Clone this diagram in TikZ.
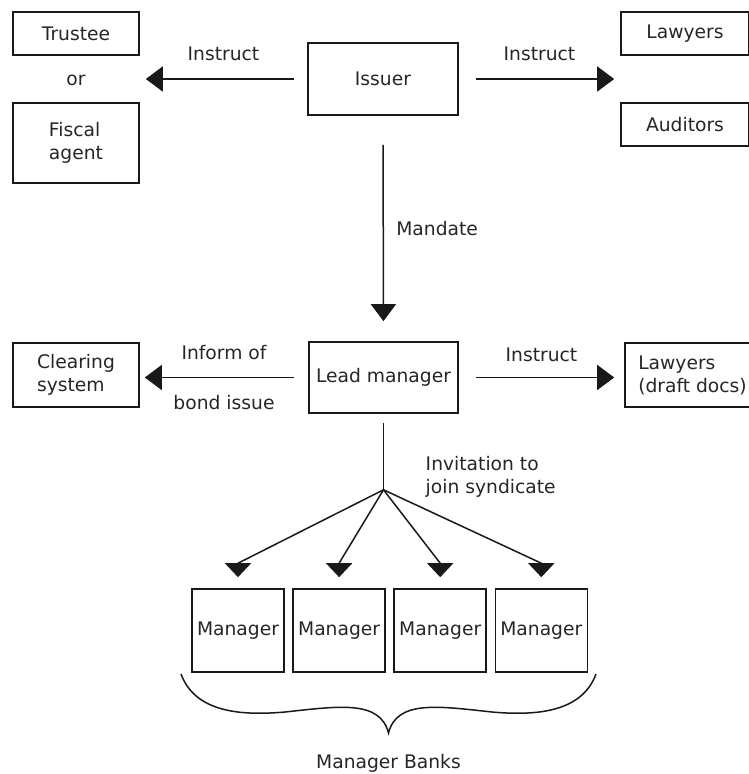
\documentclass[tikz,border=0pt]{standalone}
\usepackage{fontspec}
\setmainfont{DejaVu Sans}
\usetikzlibrary{arrows.meta, positioning}

\begin{document}
\begin{tikzpicture}[
    x=1pt, y=-1pt,
    every node/.style={font=\fontsize{18.7}{23}\selectfont, text=black!85},
    box/.style={draw=black!90, rectangle, line width=1.6pt, minimum width=126pt, minimum height=43pt, inner sep=0pt},
    arrow/.style={-{Triangle[length=17pt,width=25pt]}, line width=1.5pt, black!90},
    fanarrow/.style={-{Triangle[length=14pt,width=26pt]}, line width=1.5pt, black!90}
]
\useasboundingbox (0,0) rectangle (749,774);

% top row
\node[box] (trustee) at (76,33.5) {Trustee};
\node (or) at (76,80) {or};
\node[box, minimum height=80pt, align=left] (fiscal) at (76,143) {Fiscal\\agent};
\node[box, minimum width=150pt, minimum height=72pt] (issuer) at (383,79) {Issuer};
\node[box, minimum width=128pt] (lawyers) at (685,33.5) {Lawyers};
\node[box, minimum width=128pt] (auditors) at (685,124.5) {Auditors};

% middle row
\node[box, minimum width=149pt, minimum height=71pt] (lead) at (383.5,377.5) {Lead manager};
\node[box, minimum height=64pt, align=left] (clearing) at (76,375) {Clearing\\system};
\node[box, minimum width=135pt, minimum height=64pt, align=left] (draft) at (692.5,375) {Lawyers\\(draft docs)};

\draw[arrow, shorten <=13pt, shorten >=6pt] (issuer.west) -- node[above=14pt] {Instruct} (issuer.west -| trustee.east);
\draw[arrow, shorten <=17pt, shorten >=6pt] (issuer.east) -- node[above=14pt] {Instruct} (issuer.east -| lawyers.west);
\draw[arrow, shorten <=29pt, shorten >=20pt] (issuer.south) -- node[right=9pt] {Mandate} (lead.north);
\draw[arrow, shorten <=14pt, shorten >=5pt] (lead.west) -- node[above=14pt] {Inform of} node[below=14pt] {bond issue} (lead.west -| clearing.east);
\draw[arrow, shorten <=17pt, shorten >=10pt] (lead.east) -- node[above=12pt] {Instruct} (lead.east -| draft.west);

% syndicate
\coordinate[below=76pt of lead.south] (split);
\draw[line width=1.5pt, black!90, shorten <=9pt] (lead.south) -- (split);
\node[anchor=west, align=left] (invite) at ([xshift=38.7pt, yshift=13pt]split) {Invitation to\\join syndicate};

\node[box, minimum width=92pt, minimum height=83pt] (m1) at (238,630.5) {Manager};
\node[box, minimum width=92pt, minimum height=83pt, right=7.5pt of m1] (m2) {Manager};
\node[box, minimum width=92pt, minimum height=83pt, right=7.5pt of m2] (m3) {Manager};
\node[box, minimum width=92pt, minimum height=83pt, right=7.5pt of m3] (m4) {Manager};

\draw[fanarrow] (split) -- ([yshift=25pt]m1.north) -- ([yshift=11pt]m1.north);
\draw[fanarrow] (split) -- ([yshift=25pt]m2.north) -- ([yshift=11pt]m2.north);
\draw[fanarrow] (split) -- ([yshift=25pt]m3.north) -- ([yshift=11pt]m3.north);
\draw[fanarrow] (split) -- ([yshift=25pt]m4.north) -- ([yshift=11pt]m4.north);

% brace
\draw[line width=1.5pt, black!90] (181,674) .. controls (195,712) and (240,716) .. (285,712)
    .. controls (340,706) and (380,700) .. (388.5,733)
    .. controls (397,700) and (437,706) .. (492,712)
    .. controls (537,716) and (582,712) .. (596,674);
\node[anchor=base] (banks) at (388.5,768) {Manager Banks};
\end{tikzpicture}
\end{document}
